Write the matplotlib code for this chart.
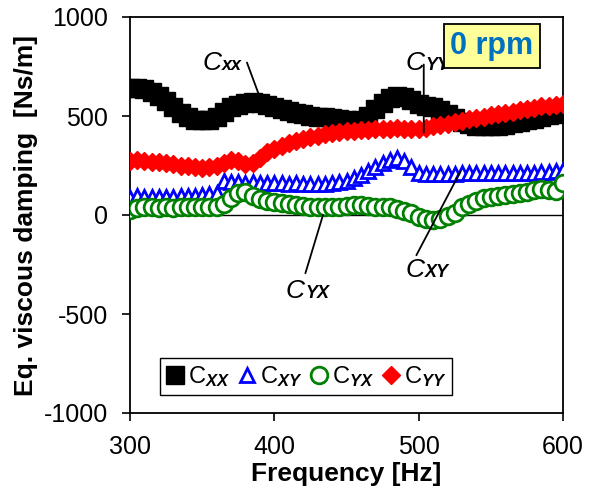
import matplotlib
matplotlib.use("Agg")
import matplotlib.pyplot as plt

# Fonts: Arial-like look, bold italic subscripts in the legend
plt.rcParams['font.family'] = ['Liberation Sans', 'DejaVu Sans']
plt.rcParams['mathtext.fontset'] = 'custom'
plt.rcParams['mathtext.rm'] = 'Liberation Sans'
plt.rcParams['mathtext.it'] = 'Liberation Sans:italic:bold'
plt.rcParams['axes.unicode_minus'] = False

# Data
freq = list(range(300, 605, 5))  # Hz, 5 Hz steps

cxx = [640, 640, 635, 620, 600, 575, 545, 515, 495, 482, 478, 482, 495, 518, 543,
       558, 566, 570, 566, 556, 545, 535, 525, 515, 508, 502, 497, 493, 490, 485,
       478, 474, 478, 500, 535, 568, 592, 600, 596, 580, 562, 552, 545, 530, 510,
       490, 470, 458, 450, 447, 447, 450, 456, 463, 470, 478, 487, 496, 505, 512, 518]

cxy = [85, 95, 90, 92, 90, 93, 92, 95, 95, 97, 100, 105, 110, 170, 165,
       168, 162, 165, 160, 162, 160, 162, 158, 160, 158, 157, 156, 157, 160, 165,
       172, 185, 200, 220, 240, 262, 280, 290, 272, 240, 212, 208, 205, 205, 206,
       208, 210, 210, 212, 212, 210, 210, 210, 212, 212, 210, 212, 215, 218, 222, 228]

cyx = [25, 35, 40, 38, 35, 38, 35, 40, 38, 40, 38, 40, 42, 55, 85,
       110, 115, 95, 80, 70, 65, 60, 55, 50, 45, 40, 38, 38, 40, 42,
       45, 48, 48, 45, 42, 40, 38, 32, 22, 8, -10, -22, -25, -18, -5,
       10, 38, 55, 72, 85, 93, 98, 103, 108, 112, 118, 125, 130, 128, 122, 160]

cyy = [275, 280, 275, 270, 268, 265, 258, 250, 245, 240, 238, 242, 250, 265, 280,
       272, 260, 262, 290, 318, 335, 350, 362, 372, 382, 392, 400, 407, 413, 418,
       422, 425, 428, 430, 432, 434, 436, 437, 436, 435, 435, 440, 448, 455, 462,
       470, 477, 484, 490, 497, 503, 510, 516, 522, 528, 535, 542, 548, 553, 558, 560]

legend_labels = [r'$\mathrm{C}_{\mathit{XX}}$', r'$\mathrm{C}_{\mathit{XY}}$',
                 r'$\mathrm{C}_{\mathit{YX}}$', r'$\mathrm{C}_{\mathit{YY}}$']

# Curve labels: (subscript, text x, text y, line start, line end)
curve_labels = [
    ('xx', 350, 734, (381, 770), (389, 613)),
    ('YY', 491, 734, (503.5, 760), (503.5, 415)),
    ('YX', 408, -420, (421.5, -294), (433.7, 0)),
    ('XY', 491, -314, (498.4, -203), (528.9, 219)),
]

fig = plt.figure(figsize=(5.97, 5.0), dpi=100)
ax = fig.add_axes([0.2178, 0.174, 0.7253, 0.792])

ax.axhline(0, color='black', lw=1.0, zorder=1)

ax.plot(freq, cxx, ls='none', marker='s', ms=13, mfc='black', mec='black',
        label=legend_labels[0], zorder=3)
ax.plot(freq, cxy, ls='none', marker='^', ms=10.5, mfc='white', mec='blue', mew=2,
        label=legend_labels[1], zorder=3)
ax.plot(freq, cyx, ls='none', marker='o', ms=12, mfc='white', mec='green', mew=2,
        label=legend_labels[2], zorder=3)
ax.plot(freq, cyy, ls='none', marker='D', ms=9.5, mfc='red', mec='red',
        label=legend_labels[3], zorder=4)

# leader lines and curve names
for sub, tx, ty, p0, p1 in curve_labels:
    ax.annotate('', xy=p1, xytext=p0,
                arrowprops=dict(arrowstyle='-', color='black', lw=1.3,
                                shrinkA=0, shrinkB=0), zorder=5)
    ax.text(tx, ty, 'C', fontsize=19, style='italic', ha='left', va='baseline', zorder=6)
    ax.annotate(sub, (tx, ty), xytext=(14, 0), textcoords='offset points',
                fontsize=13, style='italic', fontweight='bold',
                ha='left', va='baseline', zorder=6)

ax.text(0.836, 0.927, '0 rpm', transform=ax.transAxes, fontsize=22,
        fontweight='bold', color='#0070C0', ha='center', va='center', zorder=7,
        bbox=dict(boxstyle='square,pad=0.22', facecolor='#FFFF99',
                  edgecolor='black', lw=1.3))

ax.set_xlim(300, 600)
ax.set_ylim(-1000, 1000)
ax.set_xticks([300, 400, 500, 600])
ax.set_yticks([-1000, -500, 0, 500, 1000])
ax.tick_params(direction='out', length=6, width=1.2, labelsize=18, pad=10)
for s in ax.spines.values():
    s.set_linewidth(1.3)

ax.set_xlabel('Frequency [Hz]', fontsize=19, fontweight='bold', labelpad=2)
ax.set_ylabel('Eq. viscous damping  [Ns/m]', fontsize=19, fontweight='bold', labelpad=4)

leg = ax.legend(ncol=4, loc='lower left', bbox_to_anchor=(0.069, 0.045),
                borderaxespad=0, numpoints=1, fontsize=17, handlelength=0.8,
                handletextpad=0.15, columnspacing=0.3, borderpad=0.25,
                fancybox=False, framealpha=1, edgecolor='black')
leg.get_frame().set_linewidth(1.0)

fig.savefig('out.png', dpi=100)
